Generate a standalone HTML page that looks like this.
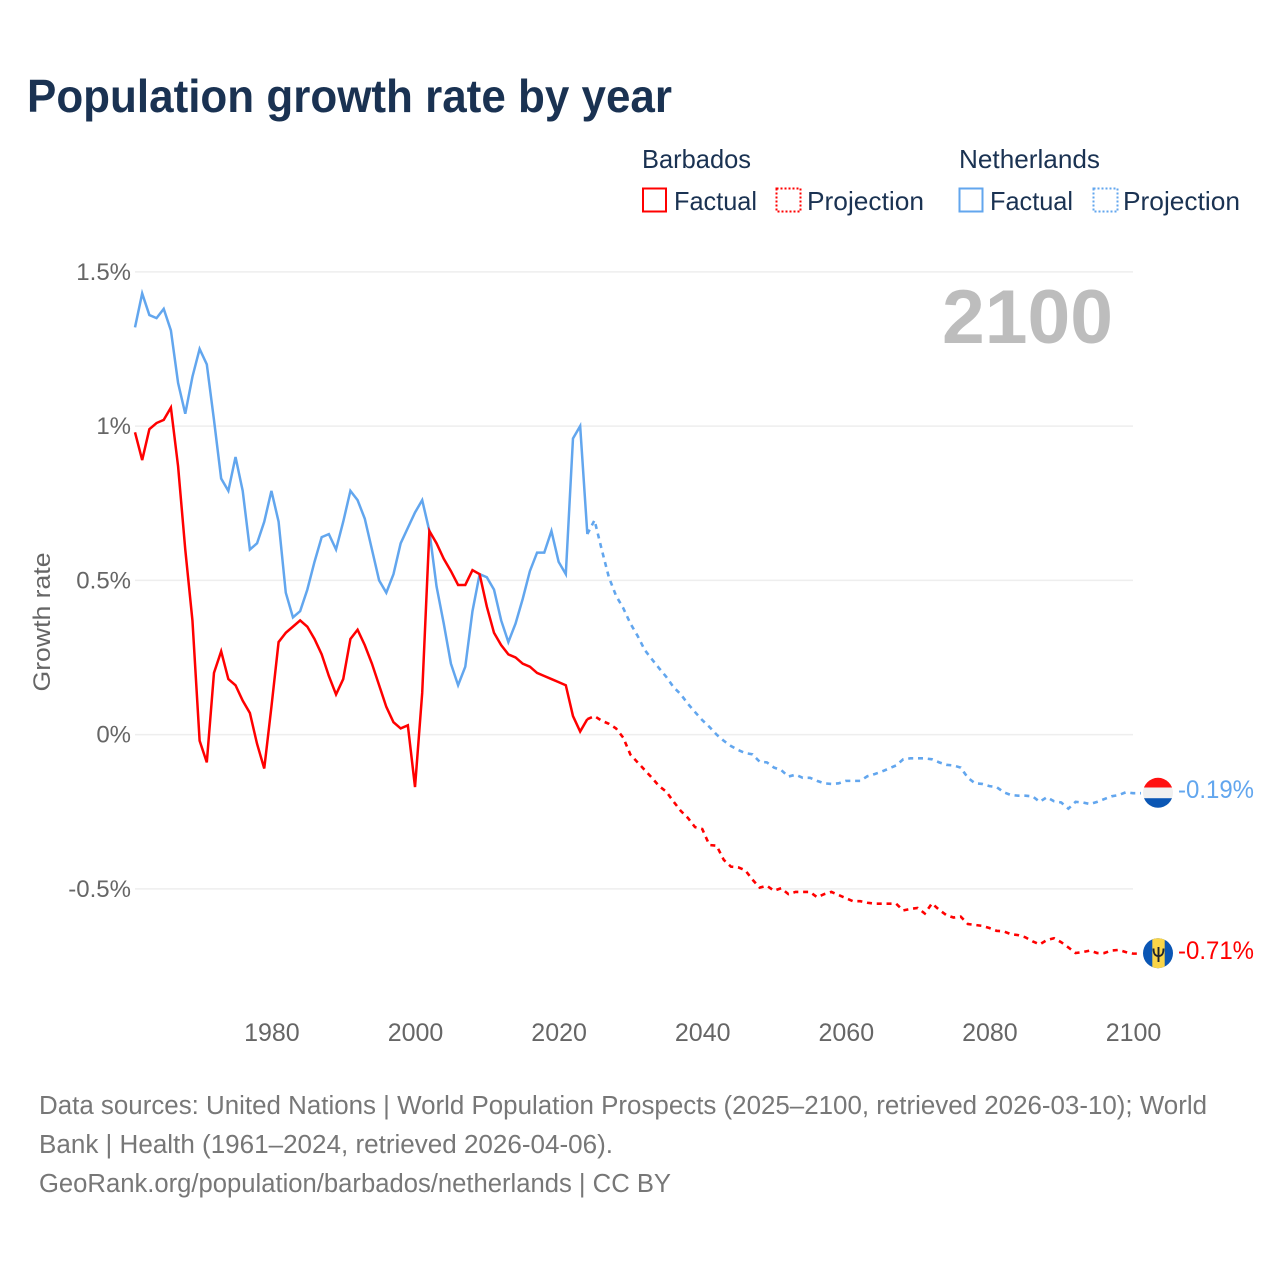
<!DOCTYPE html>
<html lang="en">
<head>
<meta charset="utf-8">
<title>Population growth rate by year</title>
<style>
html,body{margin:0;padding:0;background:#fff;}
svg{display:block;font-family:"Liberation Sans",sans-serif;}
</style>
</head>
<body>
<svg id="chart" xmlns="http://www.w3.org/2000/svg" width="1280" height="1280" viewBox="0 0 1280 1280">
  <rect x="0" y="0" width="1280" height="1280" fill="#ffffff"/>
  <text x="27" y="112" font-size="46" font-weight="700" fill="#1a3252" textLength="645" lengthAdjust="spacingAndGlyphs">Population growth rate by year</text>

  <g font-size="26" fill="#1a3252">
    <text x="642" y="168" textLength="109" lengthAdjust="spacingAndGlyphs">Barbados</text>
    <text x="959" y="168" textLength="141" lengthAdjust="spacingAndGlyphs">Netherlands</text>
    <g>
      <rect x="643" y="188.5" width="23" height="23" fill="none" stroke="#ff0000" stroke-width="2"/>
      <text x="674" y="210" textLength="83" lengthAdjust="spacingAndGlyphs">Factual</text>
    </g>
    <g>
      <rect x="776.5" y="188.5" width="24" height="23" fill="none" stroke="#ff0000" stroke-width="2" stroke-dasharray="2 2"/>
      <text x="807" y="210" textLength="117" lengthAdjust="spacingAndGlyphs">Projection</text>
    </g>
    <g>
      <rect x="959.5" y="188.5" width="23" height="23" fill="none" stroke="#62a6ee" stroke-width="2"/>
      <text x="990" y="210" textLength="83" lengthAdjust="spacingAndGlyphs">Factual</text>
    </g>
    <g>
      <rect x="1093.5" y="188.5" width="24" height="23" fill="none" stroke="#62a6ee" stroke-width="2" stroke-dasharray="2 2"/>
      <text x="1123" y="210" textLength="117" lengthAdjust="spacingAndGlyphs">Projection</text>
    </g>
  </g>

  <g id="grid"></g>
  <g id="yticks"></g>
  <g id="xticks"></g>

  <text transform="translate(50,622) rotate(-90)" text-anchor="middle" font-size="24.5" fill="#666666" textLength="139" lengthAdjust="spacingAndGlyphs">Growth rate</text>
  <text x="942" y="343" font-size="76" font-weight="700" fill="#bdbdbd" textLength="171" lengthAdjust="spacingAndGlyphs">2100</text>

  <g id="series"></g>

  <defs>
    <clipPath id="clip-nl"><circle cx="1158" cy="792.8" r="15"/></clipPath>
    <clipPath id="clip-bb"><circle cx="1158" cy="953.2" r="15"/></clipPath>
  </defs>
  <g clip-path="url(#clip-nl)">
    <rect x="1143" y="777" width="30" height="10.5" fill="#ff1010"/>
    <rect x="1143" y="787.5" width="30" height="10.7" fill="#f0f0f0"/>
    <rect x="1143" y="798.2" width="30" height="11" fill="#0a56b4"/>
  </g>
  <g clip-path="url(#clip-bb)">
    <rect x="1143" y="938" width="30" height="31" fill="#0a56b4"/>
    <rect x="1152.3" y="938" width="12.4" height="31" fill="#f9d548"/>
    <path d="M1153.5 948.5 C1153.5 954 1155 956 1158.5 956 C1162 956 1163.5 954 1163.5 948.5 M1158.5 947 V962" fill="none" stroke="#1c2430" stroke-width="1.9"/>
  </g>

  <text x="1178" y="798" font-size="25" fill="#62a6ee" textLength="76" lengthAdjust="spacingAndGlyphs">-0.19%</text>
  <text x="1178" y="959" font-size="25" fill="#ff0000" textLength="76" lengthAdjust="spacingAndGlyphs">-0.71%</text>

  <g font-size="25.5" fill="#777777">
    <text x="39" y="1114" textLength="1168" lengthAdjust="spacingAndGlyphs">Data sources: United Nations | World Population Prospects (2025–2100, retrieved 2026-03-10); World</text>
    <text x="39" y="1153" textLength="574" lengthAdjust="spacingAndGlyphs">Bank | Health (1961–2024, retrieved 2026-04-06).</text>
    <text x="39" y="1192" textLength="632" lengthAdjust="spacingAndGlyphs">GeoRank.org/population/barbados/netherlands | CC BY</text>
  </g>
</svg>
<script>
const factualStartYear = 1961;
const projectionStartYear = 2025;
const yTickValues = [1.5, 1, 0.5, 0, -0.5];
const yTickLabels = ["1.5%", "1%", "0.5%", "0%", "-0.5%"];
const xTickYears = [1980, 2000, 2020, 2040, 2060, 2080, 2100];
const xTickLabels = ["1980", "2000", "2020", "2040", "2060", "2080", "2100"];

const barbadosFactual = [0.98,0.89,0.99,1.01,1.02,1.06,0.87,0.60,0.37,-0.02,-0.09,0.20,0.27,0.18,0.16,0.11,0.07,-0.03,-0.11,0.09,0.30,0.33,0.35,0.37,0.35,0.31,0.26,0.19,0.13,0.18,0.31,0.34,0.29,0.23,0.16,0.09,0.04,0.02,0.03,-0.17,0.135,0.66,0.62,0.57,0.53,0.485,0.485,0.533,0.52,0.415,0.33,0.29,0.26,0.25,0.23,0.22,0.20,0.19,0.18,0.17,0.16,0.06,0.01,0.05];
const netherlandsFactual = [1.32,1.43,1.36,1.35,1.38,1.31,1.14,1.04,1.16,1.25,1.20,1.02,0.83,0.79,0.90,0.79,0.60,0.62,0.69,0.79,0.69,0.46,0.38,0.40,0.47,0.56,0.64,0.65,0.60,0.69,0.79,0.76,0.70,0.60,0.50,0.46,0.52,0.62,0.67,0.72,0.76,0.66,0.48,0.36,0.23,0.16,0.22,0.40,0.52,0.51,0.47,0.37,0.30,0.36,0.44,0.53,0.59,0.59,0.66,0.56,0.52,0.96,1.00,0.65];
const barbadosProjection = [0.06,0.045,0.035,0.02,-0.01,-0.065,-0.09,-0.115,-0.14,-0.167,-0.185,-0.217,-0.247,-0.27,-0.30,-0.306,-0.358,-0.36,-0.406,-0.428,-0.43,-0.44,-0.47,-0.496,-0.49,-0.506,-0.498,-0.517,-0.51,-0.51,-0.51,-0.527,-0.517,-0.51,-0.52,-0.53,-0.54,-0.54,-0.545,-0.548,-0.548,-0.548,-0.548,-0.57,-0.565,-0.562,-0.58,-0.547,-0.568,-0.585,-0.593,-0.59,-0.614,-0.617,-0.62,-0.627,-0.636,-0.638,-0.647,-0.65,-0.657,-0.67,-0.68,-0.666,-0.66,-0.673,-0.69,-0.708,-0.705,-0.70,-0.708,-0.708,-0.70,-0.698,-0.705,-0.71];
const netherlandsProjection = [0.695,0.60,0.51,0.45,0.41,0.36,0.32,0.274,0.244,0.215,0.187,0.154,0.131,0.10,0.073,0.047,0.025,0.0,-0.02,-0.037,-0.05,-0.06,-0.064,-0.088,-0.09,-0.107,-0.115,-0.136,-0.13,-0.14,-0.14,-0.15,-0.158,-0.16,-0.158,-0.15,-0.15,-0.15,-0.135,-0.128,-0.12,-0.11,-0.10,-0.08,-0.077,-0.077,-0.077,-0.08,-0.09,-0.098,-0.10,-0.107,-0.14,-0.158,-0.16,-0.167,-0.17,-0.187,-0.196,-0.198,-0.198,-0.20,-0.218,-0.203,-0.216,-0.22,-0.24,-0.218,-0.22,-0.225,-0.218,-0.209,-0.20,-0.196,-0.187,-0.19];

const SVG_NS = "http://www.w3.org/2000/svg";
function xScale(year) { return 135 + (year - 1961) * 7.18; }
function yScale(value) { return 734.6 - value * 308.5; }

function toPoints(values, startYear) {
  return values.map(function (v, i) {
    return xScale(startYear + i).toFixed(2) + "," + yScale(v).toFixed(2);
  }).join(" ");
}

const gridGroup = document.getElementById("grid");
const yTickGroup = document.getElementById("yticks");
const xTickGroup = document.getElementById("xticks");
const seriesGroup = document.getElementById("series");

yTickValues.forEach(function (value, i) {
  const line = document.createElementNS(SVG_NS, "line");
  
  
  line.setAttribute("x1", 135);
  line.setAttribute("x2", 1133);
  line.setAttribute("y1", yScale(value));
  line.setAttribute("y2", yScale(value));
  line.setAttribute("stroke", "#eeeeee");
  line.setAttribute("stroke-width", "1.5");
  gridGroup.appendChild(line);

  const label = document.createElementNS(SVG_NS, "text");
  
  
  label.setAttribute("x", 131);
  label.setAttribute("y", yScale(value) + 8);
  label.setAttribute("text-anchor", "end");
  label.setAttribute("font-size", "24");
  label.setAttribute("fill", "#666666");
  label.textContent = yTickLabels[i];
  yTickGroup.appendChild(label);
});

xTickYears.forEach(function (year, i) {
  const label = document.createElementNS(SVG_NS, "text");
  
  
  label.setAttribute("x", xScale(year) + 0.5);
  label.setAttribute("y", 1041);
  label.setAttribute("text-anchor", "middle");
  label.setAttribute("font-size", "25");
  label.setAttribute("fill", "#666666");
  label.textContent = xTickLabels[i];
  xTickGroup.appendChild(label);
});

function drawFactual(values, color, name) {
  const line = document.createElementNS(SVG_NS, "polyline");
  
  
  line.setAttribute("points", toPoints(values, factualStartYear));
  line.setAttribute("fill", "none");
  line.setAttribute("stroke", color);
  line.setAttribute("stroke-width", "2.5");
  line.setAttribute("stroke-linejoin", "miter");
  seriesGroup.appendChild(line);
}

function drawProjection(values, lastFactual, color, name) {
  const line = document.createElementNS(SVG_NS, "polyline");
  
  
  const joined = [lastFactual].concat(values);
  let pts = toPoints(joined, projectionStartYear - 1);
  const lastValue = values[values.length - 1];
  pts += " " + (xScale(2100) + 8) + "," + yScale(lastValue).toFixed(2);
  line.setAttribute("points", pts);
  line.setAttribute("fill", "none");
  line.setAttribute("stroke", color);
  line.setAttribute("stroke-width", "2.6");
  line.setAttribute("stroke-dasharray", "5 4.8");
  seriesGroup.appendChild(line);
}

drawFactual(netherlandsFactual, "#62a6ee", "netherlands-factual-line");
drawFactual(barbadosFactual, "#ff0000", "barbados-factual-line");
drawProjection(netherlandsProjection, netherlandsFactual[netherlandsFactual.length - 1], "#62a6ee", "netherlands-projection-line");
drawProjection(barbadosProjection, barbadosFactual[barbadosFactual.length - 1], "#ff0000", "barbados-projection-line");
</script>
</body>
</html>
